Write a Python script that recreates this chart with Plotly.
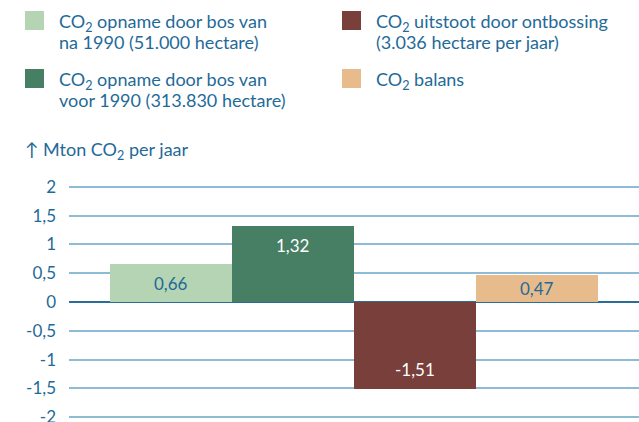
import plotly.graph_objects as go

# Chart data
categories = ["na 1990", "voor 1990", "ontbossing", "balans"]
values = [0.66, 1.32, -1.51, 0.47]
bar_colors = ["#b5d4b3", "#467f63", "#793f3b", "#e8bb8c"]
label_colors = ["#1f6a98", "#ffffff", "#ffffff", "#1f6a98"]
legend_lines = [
    ["CO<sub>2</sub> opname door bos van", "na 1990 (51.000 hectare)"],
    ["CO<sub>2</sub> opname door bos van", "voor 1990 (313.830 hectare)"],
    ["CO<sub>2</sub> uitstoot door ontbossing", "(3.036 hectare per jaar)"],
    ["CO<sub>2</sub> balans"],
]
tick_vals = [2, 1.5, 1, 0.5, 0, -0.5, -1, -1.5, -2]
tick_text = ["2", "1,5", "1", "0,5", "0", "-0,5", "-1", "-1,5", "-2"]
axis_title = "↑ Mton CO<sub>2</sub> per jaar"

W, H = 639, 422
M_L, M_R, M_T, M_B = 69, 0, 184, 2
FONT = "Lato"
BLUE = "#1f6a98"


def px_x(px):
    return (px - M_L) / (W - M_L - M_R)


def px_y(py):
    return (H - M_B - py) / (H - M_T - M_B)


fig = go.Figure()
for i, (cat, v, c) in enumerate(zip(categories, values, bar_colors)):
    fig.add_trace(go.Bar(x=[i], y=[v], width=1, marker=dict(color=c, line=dict(width=0)),
                         name=cat, showlegend=False, hoverinfo="skip"))

# value labels: centred in short bars, near the end in long bars
for i, (v, lc) in enumerate(zip(values, label_colors)):
    offset = min(abs(v) / 2, 0.33)
    ypos = v - offset if v > 0 else v + offset
    fig.add_annotation(x=i, y=ypos, xref="x", yref="y", showarrow=False,
                       text=f"{v:.2f}".replace(".", ","),
                       font=dict(family=FONT, size=17, color=lc))

# legend drawn as swatches plus text lines
legend_pos = [(25, 11), (25, 69), (342, 11), (342, 69)]
legend_colors = [bar_colors[0], bar_colors[1], bar_colors[2], bar_colors[3]]
for (sx, sy), col, lines in zip(legend_pos, legend_colors, legend_lines):
    fig.add_shape(type="rect", xref="paper", yref="paper",
                  x0=px_x(sx), x1=px_x(sx + 19), y0=px_y(sy), y1=px_y(sy + 19),
                  fillcolor=col, line=dict(width=0), layer="above")
    for k, line in enumerate(lines):
        fig.add_annotation(x=px_x(sx + 32), y=px_y(sy + 11 + 20 * k), xref="paper", yref="paper",
                           xanchor="left", yanchor="middle", showarrow=False, text=line,
                           font=dict(family=FONT, size=18, color=BLUE))

fig.add_annotation(x=px_x(23), y=px_y(150), xref="paper", yref="paper",
                   xanchor="left", yanchor="middle", showarrow=False, text=axis_title,
                   font=dict(family=FONT, size=18, color=BLUE))

fig.update_layout(
    width=W, height=H,
    margin=dict(l=M_L, r=M_R, t=M_T, b=M_B, autoexpand=False),
    paper_bgcolor="white", plot_bgcolor="white",
    barmode="relative", bargap=0,
    font=dict(family=FONT, color=BLUE),
)
fig.update_xaxes(range=[-0.832, 3.84], showgrid=False, zeroline=False,
                 showticklabels=False, ticks="", automargin=False)
fig.update_yaxes(range=[-2.05, 2.05], tickvals=tick_vals, ticktext=tick_text,
                 showgrid=True, gridcolor="#8ebcd7", gridwidth=1.5,
                 zeroline=True, zerolinecolor="#2a6e97", zerolinewidth=2,
                 ticks="", ticklabelstandoff=12, ticklabeloverflow="allow",
                 automargin=False,
                 tickfont=dict(family=FONT, size=17, color=BLUE))

fig.write_html("out.html")
